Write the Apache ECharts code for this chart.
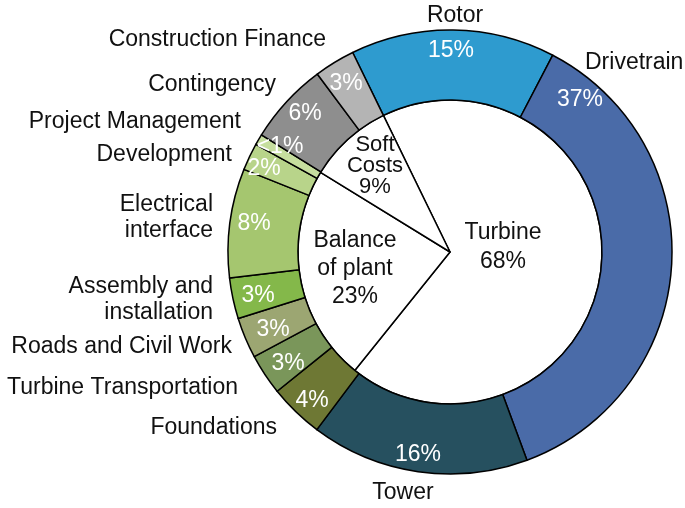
<!DOCTYPE html>
<html><head><meta charset="utf-8">
<script src="https://cdn.jsdelivr.net/npm/echarts@6/dist/echarts.min.js"></script>
<style>html,body{margin:0;padding:0;background:#fff}#c{width:685px;height:508px}</style>
</head><body><div id="c"></div>
<script>
// ---- data ----
const groupNames = ['Turbine', 'Balance\nof plant', 'Soft\nCosts'];
const groupValues = [68, 23, 9];
const groupLabels = ['68%', '23%', '9%'];

const itemNames = ['Rotor', 'Drivetrain', 'Tower', 'Foundations', 'Turbine Transportation',
  'Roads and Civil Work', 'Assembly and\ninstallation', 'Electrical\ninterface', 'Development',
  'Project Management', 'Contingency', 'Construction Finance'];
const itemValues = [15, 37, 16, 4, 3, 3, 3, 8, 2, 0.8, 6, 3];
const itemLabels = ['15%', '37%', '16%', '4%', '3%', '3%', '3%', '8%', '2%', '<1%', '6%', '3%'];

// ---- styles / layout ----
const itemColors = ['#2E9BCF', '#4A6BA8', '#26505F', '#6E7834', '#7A965A', '#9CA672', '#84B84A',
  '#A5C66F', '#B8D48A', '#C6DE9E', '#8E8E8E', '#B4B4B4'];
const namePos = [[455,16,'center'],[585,63,'left'],[403,493,'center'],[277,428,'right'],[238,388,'right'],
  [232,347,'right'],[213,300,'right'],[213,218,'right'],[232,155,'right'],[241,122,'right'],[276,85,'right'],[326,40,'right']];
const pctPos = [[451,51],[580,100],[418,455],[312,401],[288,364],[273,330],[258,296],[254,224],[264,169],[280,147],[305,114],[346,84]];
const groupPos = [[503,247],[355,269],[375,166]];
const groupFont = [[23,29],[23,28],[22,21]];
const FONT = '"Liberation Sans", Arial, Helvetica, sans-serif';

const chart = echarts.init(document.getElementById('c'), null, {renderer: 'canvas'});
const center = [450, 252];
const startAngle = 116;

chart.setOption({
  animation: false,
  backgroundColor: '#fff',
  series: [
    {
      type: 'pie', center, radius: [0, 152], startAngle, clockwise: true,
      silent: true, avoidLabelOverlap: false,
      itemStyle: {color: '#fff', borderColor: '#000', borderWidth: 1.5},
      label: {show: true, position: 'inside', color: '#111', fontFamily: FONT, fontSize: 23, lineHeight: 28,
        formatter: p => groupNames[p.dataIndex] + '\n' + groupLabels[p.dataIndex]},
      labelLine: {show: false},
      labelLayout: p => {
        const q = groupPos[p.dataIndex];
        return {x: q[0], y: q[1], align: 'center', verticalAlign: 'middle'};
      },
      data: groupNames.map((n, i) => ({name: n, value: groupValues[i],
        label: {fontSize: groupFont[i][0], lineHeight: groupFont[i][1]}}))
    },
    {
      type: 'pie', center, radius: [152, 222], startAngle, clockwise: true,
      silent: true, avoidLabelOverlap: false,
      itemStyle: {borderColor: '#000', borderWidth: 1.5},
      label: {show: true, position: 'inside', color: '#fff', fontFamily: FONT, fontSize: 23,
        formatter: p => itemLabels[p.dataIndex]},
      labelLine: {show: false},
      labelLayout: p => {
        const q = pctPos[p.dataIndex];
        return {x: q[0], y: q[1], align: 'center', verticalAlign: 'middle'};
      },
      data: itemNames.map((n, i) => ({name: n, value: itemValues[i], itemStyle: {color: itemColors[i]}}))
    },
    {
      type: 'pie', center, radius: [222, 222], startAngle, clockwise: true,
      silent: true, avoidLabelOverlap: false,
      itemStyle: {color: 'transparent', borderWidth: 0},
      label: {show: true, position: 'outside', color: '#111', fontFamily: FONT, fontSize: 23, lineHeight: 26,
        formatter: p => itemNames[p.dataIndex]},
      labelLine: {show: false},
      labelLayout: p => {
        const q = namePos[p.dataIndex];
        return {x: q[0], y: q[1], align: q[2], verticalAlign: 'middle'};
      },
      data: itemNames.map((n, i) => ({name: n, value: itemValues[i]}))
    }
  ]
});
</script></body></html>
